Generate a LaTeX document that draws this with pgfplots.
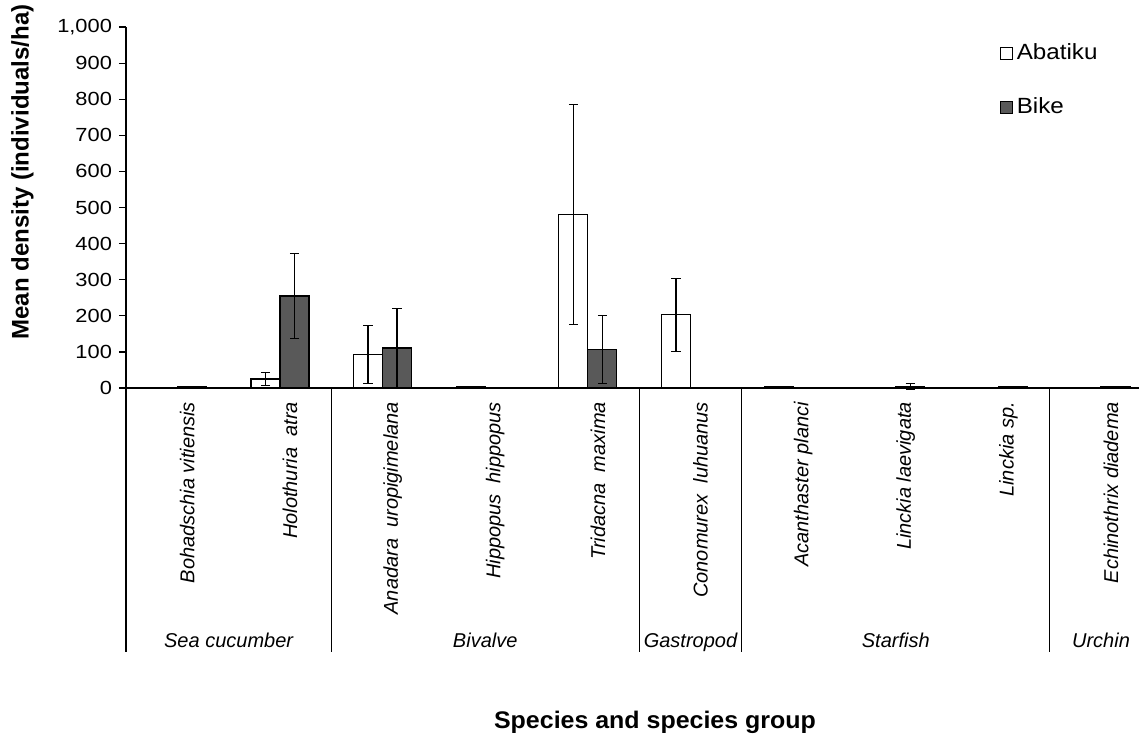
\documentclass[border=0pt]{standalone}
\usepackage{fontspec}
\setmainfont{Liberation Sans}
\newfontfamily\tickfont[FakeStretch=1.15]{Liberation Sans}
\newfontfamily\legfont[FakeStretch=1.1]{Liberation Sans}
\newfontfamily\xtitlefont[FakeStretch=1.04]{Liberation Sans}
\usepackage{pgfplots}
\pgfplotsset{compat=1.18}
\usepackage{pgfplotstable}
\definecolor{bikegray}{HTML}{595959}

\pgfplotstableread{
x y err
1 25 17
2 93 81
3 4 0
4 481 305
5 203 101
6 4 0
}\abatiku
\pgfplotstableread{
x y err
0 4 0
1 255 117
2 111 110
4 106 94
7 5 8
8 4 0
9 4 0
}\bike

\begin{document}
\begin{tikzpicture}
\begin{axis}[
  scale only axis, width=506.5pt, height=180.5pt,
  xmin=-0.5, xmax=9.37, ymin=0, ymax=1000,
  axis lines*=left,
  axis line style={line width=0.6pt},
  ybar=0pt, bar width=14.5pt,
  ytick={0,100,...,1000},
  /pgf/number format/1000 sep={,},
  /pgf/number format/assume math mode=true,
  yticklabel style={font=\tickfont\fontsize{9.5}{12}\selectfont},
  tick align=outside, major tick length=3.5pt,
  tick style={line width=0.6pt, black},
  xtick={0,...,9}, xtick style={draw=none},
  xticklabels={Bohadschia vitiensis, Holothuria\ \ atra, Anadara\ \ uropigimelana, Hippopus\ \ hippopus, Tridacna\ \ maxima, Conomurex\ \ luhuanus, Acanthaster planci, Linckia laevigata, Linckia sp., Echinothrix diadema},
  xticklabel style={rotate=90, anchor=east, font=\itshape\fontsize{10}{12}\selectfont, yshift=-5pt},
  clip=false,
  legend style={draw=none, fill=none, at={(0.862,0.965)}, anchor=north west, font=\legfont\fontsize{11}{14}\selectfont, row sep=13.5pt, inner sep=0pt},
  legend cell align=left,
  legend image code/.code={\draw[#1, line width=0.6pt] (0pt,-3pt) rectangle (6pt,3pt);},
]
\addplot[fill=white, draw=black, line width=0.6pt,
  error bars/.cd, y dir=both, y explicit,
  error bar style={black, line width=0.6pt},
  error mark options={rotate=90, black, mark size=2.3pt, line width=0.6pt}]
  table[x=x, y=y, y error=err]{\abatiku};
\addplot[fill=bikegray, draw=black, line width=0.6pt,
  error bars/.cd, y dir=both, y explicit,
  error bar style={black, line width=0.6pt},
  error mark options={rotate=90, black, mark size=2.3pt, line width=0.6pt}]
  table[x=x, y=y, y error=err]{\bike};
\legend{Abatiku, Bike}
\draw[line width=0.6pt, black] (axis cs:-0.5,0) -- ([yshift=-132pt]axis cs:-0.5,0);
\draw[line width=0.6pt, black] (axis cs:1.5,0) -- ([yshift=-132pt]axis cs:1.5,0);
\draw[line width=0.6pt, black] (axis cs:4.5,0) -- ([yshift=-132pt]axis cs:4.5,0);
\draw[line width=0.6pt, black] (axis cs:5.5,0) -- ([yshift=-132pt]axis cs:5.5,0);
\draw[line width=0.6pt, black] (axis cs:8.5,0) -- ([yshift=-132pt]axis cs:8.5,0);
\node[font=\itshape\fontsize{10}{12}\selectfont, anchor=base] at ([yshift=-129.5pt]axis cs:0.5,0) {Sea cucumber};
\node[font=\itshape\fontsize{10}{12}\selectfont, anchor=base] at ([yshift=-129.5pt]axis cs:3,0) {Bivalve};
\node[font=\itshape\fontsize{10}{12}\selectfont, anchor=base] at ([yshift=-129.5pt]axis cs:5,0) {Gastropod};
\node[font=\itshape\fontsize{10}{12}\selectfont, anchor=base] at ([yshift=-129.5pt]axis cs:7,0) {Starfish};
\node[font=\itshape\fontsize{10}{12}\selectfont, anchor=base] at ([yshift=-129.5pt]axis cs:9,0) {Urchin};
\end{axis}
\node[rotate=90, font=\bfseries\fontsize{12}{14}\selectfont] at (-51.75pt,108pt) {Mean density (individuals/ha)};
\node[anchor=base, font=\xtitlefont\bfseries\fontsize{12}{14}\selectfont] at (264.5pt,-170pt) {Species and species group};
\pgfresetboundingbox
\path[use as bounding box] (-63pt,-172.5pt) rectangle (506.5pt,194pt);
\end{tikzpicture}
\end{document}
